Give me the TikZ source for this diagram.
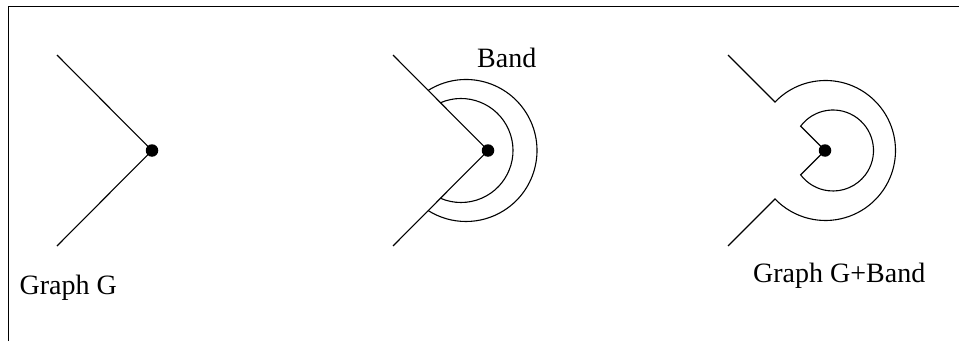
\documentclass[tikz,border=0pt]{standalone}
\usepackage{fontspec}
\setmainfont{Liberation Serif}
\begin{document}
\begin{tikzpicture}[x=1pt,y=1pt,
  line/.style={line width=1.1pt, line join=miter},
  frame/.style={line width=1.7pt},
  dot/.style={circle, fill=black, inner sep=0pt, minimum size=12.5pt},
  lbl/.style={anchor=base west, inner sep=0pt, font=\fontsize{28}{34}\selectfont}]
\useasboundingbox (0,0) rectangle (959,341);
% frame
\coordinate (fa) at (8.5,0);
\coordinate (fb) at (8.5,334.5);
\coordinate (fc) at (959,334.5);
\draw[frame] (fa) -- (fb) -- (fc);

% Figure 1: Graph G
\coordinate (a1) at (57,286);
\coordinate (b1) at (57,95);
\node[dot] (v1) at (152,190.5) {};
\draw[line] (a1) -- (v1.center) -- (b1);
\node[lbl] (t1) at (19.5,47) {Graph G};

% Figure 2: Band
\coordinate (a2) at (393,286);
\coordinate (b2) at (393,95);
\node[dot] (v2) at (488,190.5) {};
\draw[line] (a2) -- (v2.center) -- (b2);
\coordinate (c2i) at (461,190.5);
\coordinate (c2o) at (466,190.5);
\draw[line] ([shift={(113.46:52)}]c2i) arc[start angle=113.46, end angle=-113.46, radius=52];
\draw[line] ([shift={(122.34:71)}]c2o) arc[start angle=122.34, end angle=-122.34, radius=71];
\node[lbl] (t2) at (477,274) {Band};

% Figure 3: Graph G+Band
\coordinate (a3) at (728,286);
\coordinate (b3) at (728,95);
\coordinate (c3o) at (825.5,190.5);
\coordinate (c3i) at (833,190.5);
\node[dot] (v3) at (825,190.5) {};
\draw[line] (a3) -- ([shift={(136.16:70)}]c3o) arc[start angle=136.16, end angle=-136.16, radius=70] -- (b3);
\draw[line] (v3.center) -- ([shift={(143.03:40.5)}]c3i) arc[start angle=143.03, end angle=-143.03, radius=40.5] -- cycle;
\node[lbl] (t3) at (753,58.7) {Graph G+Band};
\end{tikzpicture}
\end{document}
